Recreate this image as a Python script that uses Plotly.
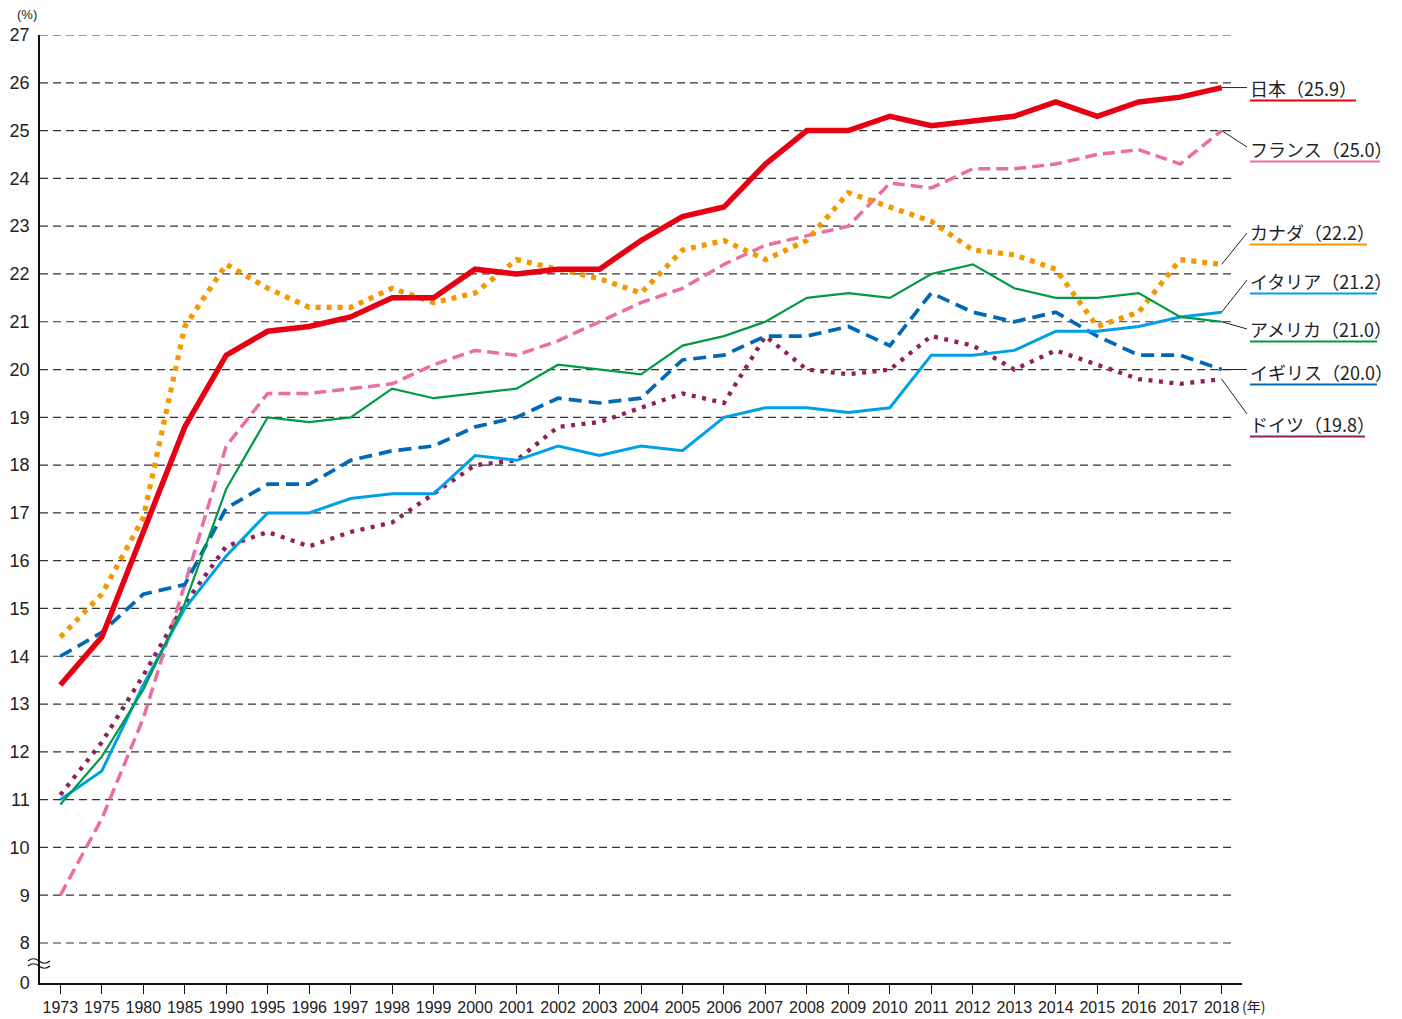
import plotly.graph_objects as go

# ---------------- data ----------------
years = ["1973", "1975", "1980", "1985", "1990", "1995", "1996", "1997", "1998",
         "1999", "2000", "2001", "2002", "2003", "2004", "2005", "2006", "2007",
         "2008", "2009", "2010", "2011", "2012", "2013", "2014", "2015", "2016",
         "2017", "2018"]

japan = [13.4, 14.4, 16.6, 18.8, 20.3, 20.8, 20.9, 21.1, 21.5,
         21.5, 22.1, 22.0, 22.1, 22.1, 22.7, 23.2, 23.4, 24.3, 25.0,
         25.0, 25.3, 25.1, 25.2, 25.3, 25.6, 25.3, 25.6, 25.7, 25.9]
france = [9.0, 10.6, 12.7, 15.5, 18.4, 19.5, 19.5, 19.6, 19.7,
          20.1, 20.4, 20.3, 20.6, 21.0, 21.4, 21.7, 22.2, 22.6, 22.8,
          23.0, 23.9, 23.8, 24.2, 24.2, 24.3, 24.5, 24.6, 24.3, 25.0]
canada = [14.4, 15.3, 16.9, 20.9, 22.2, 21.7, 21.3, 21.3, 21.7,
          21.4, 21.6, 22.3, 22.1, 21.9, 21.6, 22.5, 22.7, 22.3, 22.7,
          23.7, 23.4, 23.1, 22.5, 22.4, 22.1, 20.9, 21.2, 22.3, 22.2]
italy = [11.0, 11.6, 13.4, 15.0, 16.1, 17.0, 17.0, 17.3, 17.4,
         17.4, 18.2, 18.1, 18.4, 18.2, 18.4, 18.3, 19.0, 19.2, 19.2,
         19.1, 19.2, 20.3, 20.3, 20.4, 20.8, 20.8, 20.9, 21.1, 21.2]
usa = [10.9, 11.9, 13.3, 15.1, 17.5, 19.0, 18.9, 19.0, 19.6,
       19.4, 19.5, 19.6, 20.1, 20.0, 19.9, 20.5, 20.7, 21.0, 21.5,
       21.6, 21.5, 22.0, 22.2, 21.7, 21.5, 21.5, 21.6, 21.1, 21.0]
uk = [14.0, 14.5, 15.3, 15.5, 17.1, 17.6, 17.6, 18.1, 18.3,
      18.4, 18.8, 19.0, 19.4, 19.3, 19.4, 20.2, 20.3, 20.7, 20.7,
      20.9, 20.5, 21.6, 21.2, 21.0, 21.2, 20.7, 20.3, 20.3, 20.0]
germany = [11.1, 12.2, 13.6, 15.1, 16.3, 16.6, 16.3, 16.6, 16.8,
           17.4, 18.0, 18.1, 18.8, 18.9, 19.2, 19.5, 19.3, 20.7, 20.0,
           19.9, 20.0, 20.7, 20.5, 20.0, 20.4, 20.1, 19.8, 19.7, 19.8]

y_ticks = list(range(8, 28))

# ---------------- geometry / style ----------------
OFF = 8                              # page body margin of the html page
W, H = 1402 - OFF, 1019 - OFF
L, R, T, B = 40, 1242, 35, 983       # target plot box in screenshot pixels
PW, PH = R - L, B - T
Y_TOP = 27
UNIT = (943 - 35) / 19.0            # pixels per unit
Y_MIN = 8 - (B - 943) / UNIT        # value at the bottom (broken axis "0")
X_RANGE = [-0.49, len(years) - 1 + 0.49]


def xp(px):
    return (px - L) / PW


def yp(py):
    return (B - py) / PH


def val_at(py):
    return Y_TOP - (py - T) / UNIT


def cat_frac(idx):
    return (idx - X_RANGE[0]) / (X_RANGE[1] - X_RANGE[0])


series = [
    # name, data, colour, width, dash, label y px, leader end y px (None=horizontal), underline end px
    ("フランス", france, "#EC6CA6", 3.5, "12px,6px", 149, 147, 1380),
    ("カナダ", canada, "#F39800", 5.2, "5px,6px", 232, 233, 1367),
    ("ドイツ", germany, "#8E2159", 4.3, "4px,6.5px", 424, 414, 1365),
    ("イギリス", uk, "#0068B7", 3.7, "13px,7px", 372, None, 1377),
    ("イタリア", italy, "#00A0E9", 3.0, None, 281, 280, 1377),
    ("アメリカ", usa, "#009944", 2.2, None, 329, 329, 1377),
    ("日本", japan, "#E60012", 5.5, None, 88, None, 1356),
]

fig = go.Figure()
for nm, data, color, width, dash, _, _, _ in series:
    line = dict(color=color, width=width)
    if dash:
        line["dash"] = dash
    fig.add_trace(go.Scatter(x=years, y=data, mode="lines", line=line,
                             name=nm, showlegend=False, hoverinfo="skip"))

shapes = []
for v in y_ticks:
    shapes.append(dict(type="line", xref="paper", yref="y", x0=0, x1=xp(1233),
                       y0=v, y1=v, layer="below",
                       line=dict(color="#333333", width=1.2, dash="8px,5px")))

annotations = []
x_end = cat_frac(len(years) - 1)
for nm, data, color, width, dash, ly, lend, ux1 in series:
    label = f"{nm}（{data[-1]:.1f}）"
    annotations.append(dict(
        x=xp(1248), y=yp(ly), xref="paper", yref="paper",
        text=label, showarrow=False, xanchor="left", yanchor="middle",
        font=dict(family="Noto Sans CJK JP", size=18, color="#222222"),
    ))
    y_end = data[-1] if lend is None else val_at(lend)
    shapes.append(dict(type="line", xref="paper", yref="y",
                       x0=x_end, y0=data[-1], x1=xp(1247), y1=y_end,
                       line=dict(color="#222222", width=1)))
    shapes.append(dict(type="line", xref="paper", yref="paper",
                       x0=xp(1250), x1=xp(ux1), y0=yp(ly + 12.5), y1=yp(ly + 12.5),
                       line=dict(color=color, width=2)))


def wave(y0):
    pts = [(28, y0), (33.5, y0 - 4.5), (39, y0), (44.5, y0 + 4.5), (50, y0)]
    return ("M {:.5f},{:.5f} Q {:.5f},{:.5f} {:.5f},{:.5f} Q {:.5f},{:.5f} {:.5f},{:.5f}"
            .format(xp(pts[0][0]), yp(pts[0][1]), xp(pts[1][0]), yp(pts[1][1]),
                    xp(pts[2][0]), yp(pts[2][1]), xp(pts[3][0]), yp(pts[3][1]),
                    xp(pts[4][0]), yp(pts[4][1])))


for y0 in (961, 966):
    shapes.append(dict(type="path", xref="paper", yref="paper", path=wave(y0),
                       line=dict(color="#111111", width=1.2)))

annotations.append(dict(x=xp(27), y=yp(14), xref="paper", yref="paper",
                        text="(%)", showarrow=False, xanchor="center", yanchor="middle",
                        font=dict(family="Liberation Sans", size=13, color="#222222")))
annotations.append(dict(x=xp(1240), y=yp(1006), xref="paper", yref="paper",
                        text="(年)", showarrow=False, xanchor="left", yanchor="middle",
                        font=dict(family="Noto Sans CJK JP", size=14, color="#222222")))

fig.update_layout(
    width=W, height=H,
    margin=dict(l=L - OFF, r=W - (R - OFF), t=T - OFF, b=H - (B - OFF), pad=0,
                autoexpand=False),
    paper_bgcolor="white", plot_bgcolor="white",
    shapes=shapes, annotations=annotations, showlegend=False,
    xaxis=dict(type="category", range=X_RANGE, showgrid=False, automargin=False,
               showline=True, linecolor="#111111", linewidth=1.5,
               ticks="outside", ticklen=9, tickwidth=1, tickcolor="#111111",
               tickangle=0,
               tickfont=dict(family="Liberation Sans", size=16, color="#222222"),
               zeroline=False, fixedrange=True),
    yaxis=dict(range=[Y_MIN, Y_TOP], showgrid=False, zeroline=False, automargin=False,
               showline=True, linecolor="#111111", linewidth=1.5,
               tickmode="array", tickvals=[Y_MIN + 0.01] + y_ticks,
               ticktext=["0"] + [str(v) for v in y_ticks],
               ticks="", ticklabelstandoff=5,
               tickfont=dict(family="Liberation Sans", size=18, color="#222222"),
               fixedrange=True),
)

fig.write_html("out.html")
